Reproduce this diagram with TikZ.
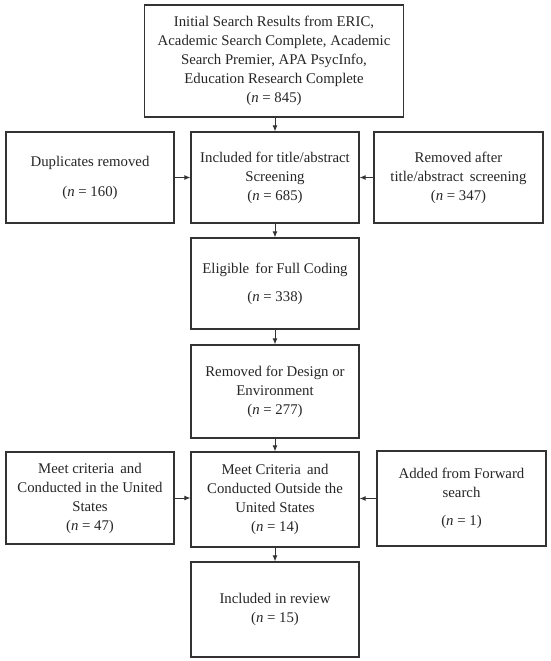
\documentclass[tikz,border=0pt]{standalone}
\usepackage{fontspec}
\setmainfont{Liberation Serif}
\usetikzlibrary{arrows.meta}
\definecolor{edge}{HTML}{333333}
\begin{document}
\begin{tikzpicture}[x=1pt,y=-1pt,
  box/.style={draw=edge,line width=1.3pt,rectangle,inner sep=0pt,align=center,
    font=\fontsize{14.8}{19}\selectfont,text=black!85},
  arr/.style={draw=edge,line width=0.9pt,-{Latex[length=6pt,width=5pt]}}]
\useasboundingbox[fill=white] (0,0) rectangle (550,661);
\node[box,minimum width=259pt,minimum height=112pt] (top) at (274,61)
  {Initial Search Results from ERIC,\\Academic Search Complete, Academic\\Search Premier, APA PsycInfo,\\Education Research Complete\\(\textit{n} = 845)};
\node[box,minimum width=168pt,minimum height=91pt] (dup) at (90,177.5)
  {Duplicates removed\\[11pt](\textit{n} = 160)};
\node[box,minimum width=168pt,minimum height=91pt] (incl) at (275,177.5)
  {Included for title/abstract\\Screening\\(\textit{n} = 685)};
\node[box,minimum width=169pt,minimum height=91pt] (rem) at (458.5,177.5)
  {Removed after\\title/abstract\, screening\\(\textit{n} = 347)};
\node[box,minimum width=168pt,minimum height=91pt] (elig) at (275,283.5)
  {Eligible\, for Full Coding\\[9pt](\textit{n} = 338)};
\node[box,minimum width=168pt,minimum height=93pt] (design) at (275,391.5)
  {Removed for Design or\\Environment\\(\textit{n} = 277)};
\node[box,minimum width=168pt,minimum height=92pt] (us) at (90,498)
  {Meet criteria\, and\\Conducted in the United\\States\\(\textit{n} = 47)};
\node[box,minimum width=168pt,minimum height=95pt] (out) at (275,499.5)
  {Meet Criteria\, and\\Conducted Outside the\\United States\\(\textit{n} = 14)};
\node[box,minimum width=169pt,minimum height=95pt] (add) at (461.5,498.5)
  {Added from Forward\\search\\[9pt](\textit{n} = 1)};
\node[box,minimum width=168pt,minimum height=95pt] (fin) at (275,609.5)
  {Included in review\\(\textit{n} = 15)};
\draw[arr] (top.south -| incl.north) -- (incl.north);
\draw[arr] (dup.east) -- (incl.west);
\draw[arr] (rem.west) -- (incl.east);
\draw[arr] (incl) -- (elig);
\draw[arr] (elig) -- (design);
\draw[arr] (design) -- (out);
\draw[arr] (us.east) -- (us.east -| out.west);
\draw[arr] (add.west) -- (add.west -| out.east);
\draw[arr] (out) -- (fin);
\end{tikzpicture}
\end{document}
